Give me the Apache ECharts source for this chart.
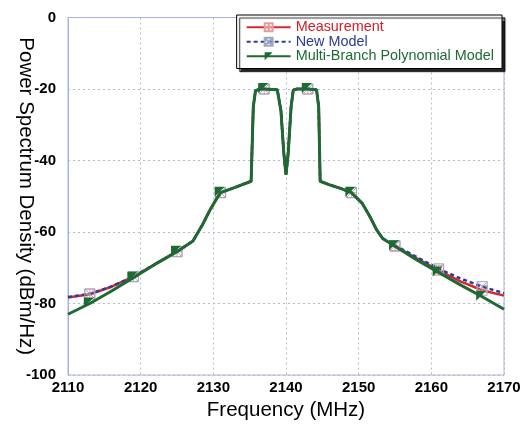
<!DOCTYPE html>
<html>
<head>
<meta charset="utf-8">
<script src="https://cdn.jsdelivr.net/npm/echarts@6/dist/echarts.min.js"></script>
<style>html,body{margin:0;padding:0;background:#fff}#c{width:522px;height:427px}</style>
</head>
<body>
<div id="c"></div>
<script>
var freqs = [2110, 2113, 2116, 2119, 2122, 2125, 2127.2, 2128.5, 2129.5, 2130.5, 2131, 2133, 2135.2, 2135.5, 2135.8, 2136.3, 2137, 2138.8, 2139.3, 2139.7, 2140, 2140.3, 2140.7, 2141, 2141.5, 2143, 2144.2, 2144.5, 2144.7, 2146, 2147.5, 2149, 2150.5, 2151.5, 2152.5, 2153.3, 2155, 2158, 2161, 2164, 2167, 2170];
var measurement = [-78.3, -77.4, -75.3, -72.5, -69.0, -65.5, -62.5, -58, -54, -50.5, -49.0, -47.5, -45.8, -25, -20.5, -20, -20, -20.2, -26, -38, -44, -38, -25, -20.3, -20, -20, -20.2, -25, -45.8, -46.8, -47.8, -49.0, -52, -55.5, -59.5, -61.8, -64.0, -67.4, -70.7, -73.8, -76.3, -77.8];
var newModel = [-78.2, -77.3, -75.2, -72.5, -69.0, -65.5, -62.5, -58, -54, -50.5, -49.0, -47.5, -45.8, -25, -20.5, -20, -20, -20.2, -26, -38, -44, -38, -25, -20.3, -20, -20, -20.2, -25, -45.8, -46.8, -47.8, -49.0, -52, -55.5, -59.5, -61.8, -63.8, -67.0, -70.3, -73.0, -75.3, -77.1];
var mbpModel = [-83.0, -80.0, -76.5, -72.8, -69.0, -65.5, -62.5, -58, -54, -50.5, -49.0, -47.5, -45.8, -25, -20.5, -20, -20, -20.2, -26, -38, -44, -38, -25, -20.3, -20, -20, -20.2, -25, -45.8, -46.8, -47.8, -49.0, -52, -55.5, -59.5, -61.8, -64.0, -67.8, -71.3, -74.8, -78.1, -81.6];
var markerFreqs = [2113, 2119, 2125, 2131, 2137, 2143, 2149, 2155, 2161, 2167];
var xTicks = [2110, 2170, 10];
var yTicks = [-100, 0, 20];

function pairs(vals) { return freqs.map(function (f, i) { return [f, vals[i]]; }); }
function symSize(v) { return markerFreqs.indexOf(v[0]) >= 0 ? 10 : 0; }

var chart = echarts.init(document.getElementById('c'), null, {renderer: 'canvas'});
chart.setOption({
  animation: false,
  backgroundColor: '#fff',
  grid: {left: 68, right: 18, top: 17.5, bottom: 52, outerBoundsMode: 'none', containLabel: false, show: true, borderColor: '#a9b2dc', borderWidth: 1, backgroundColor: 'transparent'},
  legend: {
    right: 20, top: 15, orient: 'vertical', itemGap: 0, itemWidth: 44, itemHeight: 10,
    padding: [5, 8, 5, 9],
    backgroundColor: '#fff', borderColor: '#000', borderWidth: 1,
    shadowColor: 'rgba(0,0,0,0.85)', shadowOffsetX: 3, shadowOffsetY: 3, shadowBlur: 1,
    textStyle: {fontFamily: 'Liberation Sans, Arial', fontSize: 14.4, lineHeight: 14.5, padding: [0, 0, 0, 0]},
    data: [
      {name: 'Measurement', textStyle: {color: '#d3202a'}},
      {name: 'New Model', textStyle: {color: '#2a3b99'}},
      {name: 'Multi-Branch Polynomial Model', textStyle: {color: '#1f6a32'}}
    ]
  },
  xAxis: {
    type: 'value', min: xTicks[0], max: xTicks[1], interval: xTicks[2],
    name: 'Frequency (MHz)', nameLocation: 'middle', nameGap: 25, nameMoveOverlap: false,
    nameTextStyle: {fontFamily: 'Liberation Sans, Arial', fontSize: 20.5, color: '#000'},
    axisLine: {show: true, lineStyle: {color: '#a9b2dc'}},
    axisTick: {show: false},
    axisLabel: {fontFamily: 'Liberation Sans, Arial', fontWeight: 'bold', fontSize: 15, color: '#000', margin: 5, formatter: function (v) { return String(v); }},
    splitLine: {show: true, lineStyle: {color: '#b4bad6', type: [2, 3], width: 1}}
  },
  yAxis: {
    type: 'value', min: yTicks[0], max: yTicks[1], interval: yTicks[2],
    name: 'Power Spectrum Density (dBm/Hz)', nameLocation: 'middle', nameGap: 32, nameRotate: -90, nameMoveOverlap: false,
    nameTextStyle: {fontFamily: 'Liberation Sans, Arial', fontSize: 20.5, color: '#000'},
    axisLine: {show: true, lineStyle: {color: '#a9b2dc'}},
    axisTick: {show: false},
    axisLabel: {fontFamily: 'Liberation Sans, Arial', fontWeight: 'bold', fontSize: 15, color: '#000', margin: 12, formatter: function (v) { return String(v); }},
    splitLine: {show: true, lineStyle: {color: '#b4bad6', type: [2, 3], width: 1}}
  },
  series: [
    {
      name: 'Measurement', type: 'line', data: pairs(measurement), z: 2,
      lineStyle: {color: '#d9252e', width: 2.5},
      symbol: 'path://M0,0 L10,0 L10,10 L0,10 Z M5,0 L5,10 M0,5 L10,5', symbolSize: symSize,
      itemStyle: {color: 'rgba(255,255,255,0)', borderColor: '#e79a9d', borderWidth: 1},
      showAllSymbol: true
    },
    {
      name: 'New Model', type: 'line', data: pairs(newModel), z: 3,
      lineStyle: {color: '#2b3c9c', width: 2.5, type: [4, 3]},
      symbol: 'path://M0,0 L10,0 L10,10 L0,10 Z M0,0 L10,10 M10,0 L0,10', symbolSize: symSize,
      itemStyle: {color: 'rgba(255,255,255,0)', borderColor: '#a0a6c4', borderWidth: 1},
      showAllSymbol: true
    },
    {
      name: 'Multi-Branch Polynomial Model', type: 'line', data: pairs(mbpModel), z: 4,
      lineStyle: {color: '#1f6a32', width: 3},
      symbol: 'path://M0,0 L10,0 L0,10 Z', symbolSize: symSize, symbolOffset: [-1, -1],
      itemStyle: {color: '#1f6a32', borderColor: '#1f6a32', borderWidth: 0},
      showAllSymbol: true
    }
  ]
});
</script>
</body>
</html>
